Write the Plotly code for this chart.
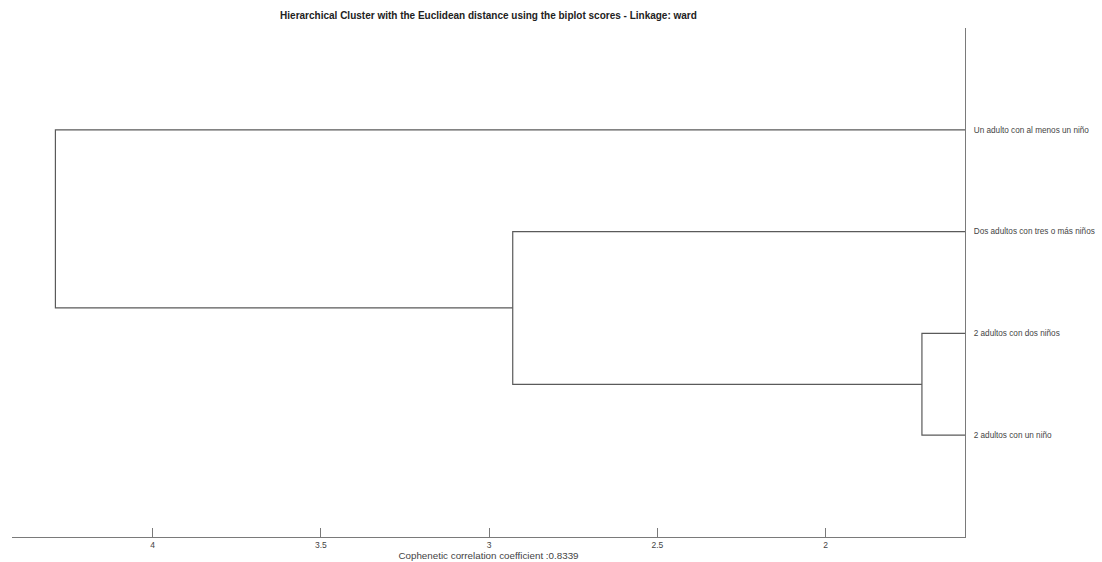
import plotly.graph_objects as go

# ---- data ----
leaf_labels = ["2 adultos con un niño", "2 adultos con dos niños",
               "Dos adultos con tres o más niños", "Un adulto con al menos un niño"]
leaf_positions = [1, 2, 3, 4]
# merges: (child_a, child_b, height); children indexed 0..3 for leaves, 4.. for merged nodes
merge_a = [0, 4, 5]
merge_b = [1, 2, 3]
merge_height = [1.714, 2.93, 4.289]
x_ticks = [4, 3.5, 3, 2.5, 2]
x_tick_text = ["4", "3.5", "3", "2.5", "2"]
coph = 0.8339

# ---- build dendrogram segments ----
node_x = [0.0] * len(leaf_labels)
node_y = list(leaf_positions)
xs, ys = [], []
for a, b, h in zip(merge_a, merge_b, merge_height):
    xs += [node_x[a], h, h, node_x[b], None]
    ys += [node_y[a], node_y[a], node_y[b], node_y[b], None]
    node_x.append(h)
    node_y.append((node_y[a] + node_y[b]) / 2)

line_col = "#5a5a5a"
axis_col = "#7a7a7a"
txt_col = "#3a3a3a"
font_family = "Liberation Sans, Arial, sans-serif"

fig = go.Figure()
fig.add_trace(go.Scatter(x=xs, y=ys, mode="lines",
                         line=dict(color=line_col, width=1.2),
                         hoverinfo="skip", showlegend=False))

fig.update_layout(
    width=1102, height=562,
    margin=dict(l=12, r=137, t=28, b=25),
    paper_bgcolor="white", plot_bgcolor="white",
    font=dict(family=font_family, color=txt_col, size=8),
    title=dict(text="<b>Hierarchical Cluster with the Euclidean distance using the biplot scores - Linkage: ward</b>",
               x=(12 + 965) / 2 / 1102, xanchor="center",
               y=1 - 15 / 562, yanchor="middle", yref="container",
               font=dict(size=10, color="#222222", family=font_family)),
    showlegend=False,
)
fig.update_xaxes(
    range=[4.418, 1.586], tickvals=x_ticks, ticktext=x_tick_text,
    showline=True, linecolor=axis_col, linewidth=1.2,
    ticks="inside", ticklen=9, tickcolor=axis_col, tickwidth=1,
    showgrid=False, zeroline=False, automargin=False,
    tickfont=dict(size=8.5, color="#444444"),
    title=dict(text=f"Cophenetic correlation coefficient :{coph}",
               font=dict(size=9.8, color="#444444"), standoff=0),
)
fig.update_yaxes(
    range=[0, 5], side="right", tickvals=leaf_positions, ticktext=leaf_labels,
    showline=True, linecolor=axis_col, linewidth=1.2,
    ticks="", showgrid=False, zeroline=False, ticklabelstandoff=6,
    automargin=False,
    tickfont=dict(size=8.2, color="#444444"),
)

fig.write_html("out.html", config={"displayModeBar": False},
               post_script="document.body.style.margin='0';")
